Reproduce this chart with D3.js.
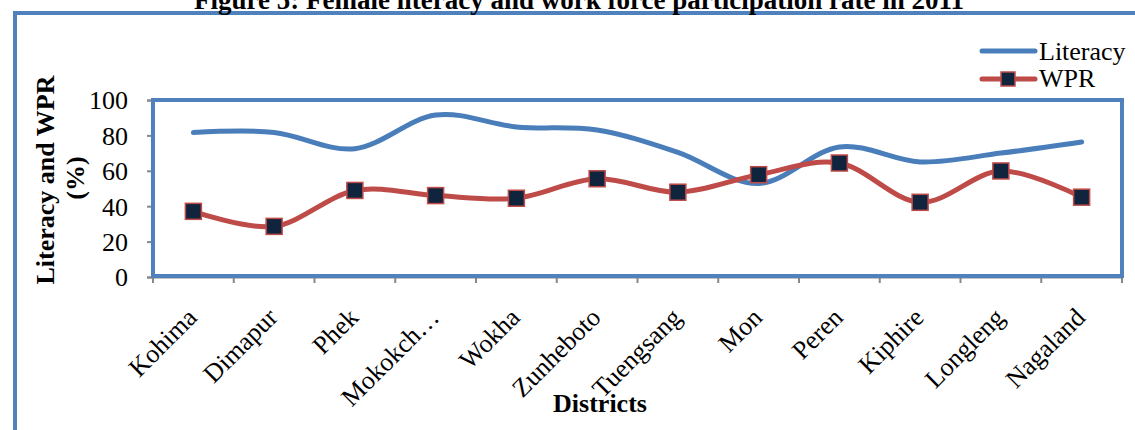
<!DOCTYPE html>
<html>
<head>
<meta charset="utf-8">
<script src="https://cdn.jsdelivr.net/npm/d3@7"></script>
<style>
  body { margin: 0; background: #fff; }
  text { font-family: "Liberation Serif", "Times New Roman", serif; fill: #000; }
</style>
</head>
<body>
<div id="chart"></div>
<script>

const districts = ["Kohima", "Dimapur", "Phek", "Mokokch\u2026", "Wokha", "Zunheboto",
                   "Tuengsang", "Mon", "Peren", "Kiphire", "Longleng", "Nagaland"];
const literacy = [81.6, 81.7, 72.5, 91.5, 84.8, 83.0, 70.4, 52.8, 73.5, 65.0, 70.0, 76.3];
const wpr = [37.1, 28.6, 48.9, 46.0, 44.5, 55.5, 47.9, 57.8, 64.4, 42.2, 59.9, 45.1];
const yTicks = [0, 20, 40, 60, 80, 100];

const W = 1135, H = 430;
const PLOT_L = 153, PLOT_R = 1122, PLOT_T = 100, PLOT_B = 277;
const FONT = 26;

const COLOR_FRAME = "#4F81BD";
const COLOR_LIT = "#4A7EBB";
const COLOR_WPR = "#BE4B48";
const COLOR_MARK = "#10243E";

let svg = d3.select("#chart").append("svg")
    .attr("width", W)
    .attr("height", H);

// outer frame (runs off the right and bottom edges)
svg.append("rect")
    .attr("x", 15).attr("y", 13)
    .attr("width", W + 20).attr("height", H + 20)
    .attr("fill", "none")
    .attr("stroke", COLOR_FRAME)
    .attr("stroke-width", 4);

// title is clipped by the top of the picture, as in the source
svg.append("text")
    .attr("x", 579).attr("y", 9)
    .attr("text-anchor", "middle")
    .attr("font-size", 27)
    .attr("font-weight", "bold")
    .text("Figure 5: Female literacy and work force participation rate in 2011");

let x = d3.scaleBand().domain(districts).range([PLOT_L, PLOT_R]);
let y = d3.scaleLinear().domain([0, 100]).range([PLOT_B, PLOT_T]);

// y axis
let yAxis = svg.append("g")
    .attr("transform", "translate(" + PLOT_L + ",0)")
    .call(d3.axisLeft(y).tickValues(yTicks).tickSize(6).tickPadding(19));
yAxis.select(".domain").attr("stroke", "#888").attr("stroke-width", 2);
yAxis.selectAll(".tick line").attr("stroke", "#888").attr("stroke-width", 2);
yAxis.selectAll(".tick text")
    .attr("font-size", FONT)
    .attr("dy", "0.34em")
    .attr("fill", "#000");

// x axis
let xAxis = svg.append("g")
    .attr("transform", "translate(0," + PLOT_B + ")")
    .call(d3.axisBottom(x).tickSize(0).tickFormat(""));
xAxis.select(".domain").attr("stroke", "#888").attr("stroke-width", 2);

let bounds = districts.map(d => x(d)).concat([PLOT_R]);
svg.append("g").selectAll("line")
    .data(bounds)
    .join("line")
        .attr("x1", d => d).attr("x2", d => d)
        .attr("y1", PLOT_B).attr("y2", PLOT_B + 6)
        .attr("stroke", "#888")
        .attr("stroke-width", 2);

svg.append("g").selectAll("text")
    .data(districts)
    .join("text")
        .attr("text-anchor", "end")
        .attr("font-size", FONT)
        .attr("transform", d => "translate(" + (x(d) + x.bandwidth() / 2 + 5) + "," + (PLOT_B + 42) + ") rotate(-45)")
        .text(d => d);

// plot area border
svg.append("rect")
    .attr("x", PLOT_L).attr("y", PLOT_T)
    .attr("width", PLOT_R - PLOT_L).attr("height", PLOT_B - PLOT_T - 1)
    .attr("fill", "none")
    .attr("stroke", COLOR_FRAME)
    .attr("stroke-width", 4);

// series
let cx = (d, i) => x(districts[i]) + x.bandwidth() / 2;
let line = d3.line()
    .x(cx)
    .y(d => y(d))
    .curve(d3.curveCardinal.tension(0));

svg.append("path")
    .attr("d", line(literacy))
    .attr("fill", "none")
    .attr("stroke", COLOR_LIT)
    .attr("stroke-width", 5)
    .attr("stroke-linecap", "round");

svg.append("path")
    .attr("d", line(wpr))
    .attr("fill", "none")
    .attr("stroke", COLOR_WPR)
    .attr("stroke-width", 5)
    .attr("stroke-linecap", "round");

const MS = 16;
svg.append("g").selectAll("rect")
    .data(wpr)
    .join("rect")
        .attr("x", (d, i) => cx(d, i) - MS / 2)
        .attr("y", d => y(d) - MS / 2)
        .attr("width", MS).attr("height", MS)
        .attr("fill", COLOR_MARK)
        .attr("stroke", COLOR_WPR)
        .attr("stroke-width", 1.5);

// axis titles
svg.append("text")
    .attr("transform", "translate(54,180) rotate(-90)")
    .attr("text-anchor", "middle")
    .attr("font-size", FONT)
    .attr("font-weight", "bold")
    .text("Literacy and WPR");

svg.append("text")
    .attr("transform", "translate(84,178) rotate(-90)")
    .attr("text-anchor", "middle")
    .attr("font-size", FONT)
    .attr("font-weight", "bold")
    .text("(%)");

svg.append("text")
    .attr("x", 600).attr("y", 412)
    .attr("text-anchor", "middle")
    .attr("font-size", FONT)
    .attr("font-weight", "bold")
    .text("Districts");

// legend
svg.append("line")
    .attr("x1", 982).attr("x2", 1035)
    .attr("y1", 51).attr("y2", 51)
    .attr("stroke", COLOR_LIT).attr("stroke-width", 5)
    .attr("stroke-linecap", "round");
svg.append("text")
    .attr("x", 1039).attr("y", 60)
    .attr("font-size", FONT)
    .text("Literacy");

svg.append("line")
    .attr("x1", 982).attr("x2", 1035)
    .attr("y1", 79).attr("y2", 79)
    .attr("stroke", COLOR_WPR).attr("stroke-width", 5)
    .attr("stroke-linecap", "round");
svg.append("rect")
    .attr("x", 1008 - 7).attr("y", 79 - 7)
    .attr("width", 14).attr("height", 14)
    .attr("fill", COLOR_MARK)
    .attr("stroke", COLOR_WPR).attr("stroke-width", 1.5);
svg.append("text")
    .attr("x", 1039).attr("y", 87)
    .attr("font-size", FONT)
    .text("WPR");

</script>
</body>
</html>
